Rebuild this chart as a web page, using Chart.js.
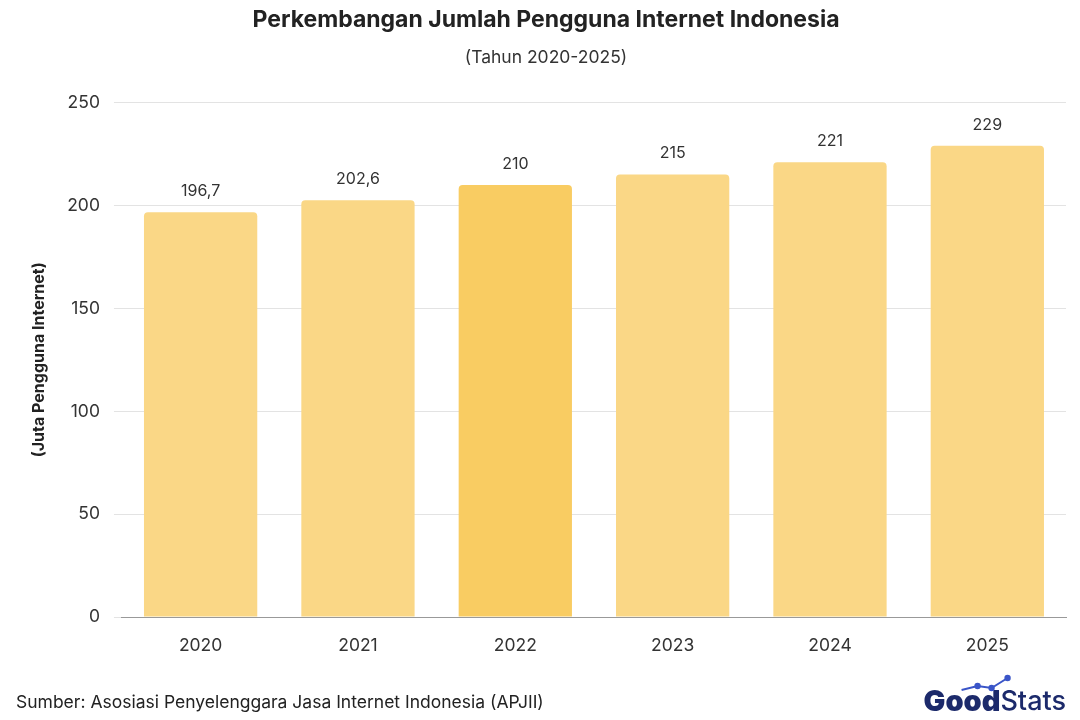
<!DOCTYPE html>
<html>
<head>
<meta charset="utf-8">
<script src="https://cdn.jsdelivr.net/npm/chart.js@4"></script>
<style>
  html, body { margin: 0; padding: 0; background: #fff; }
  #wrap { width: 1080px; height: 720px; }
</style>
</head>
<body>
<div id="wrap"><canvas id="chart"></canvas></div>
<script>
const years = ['2020', '2021', '2022', '2023', '2024', '2025'];
const users = [196.7, 202.6, 210, 215, 221, 229];
const valueLabels = ['196,7', '202,6', '210', '215', '221', '229'];
const highlightYear = '2022';

const BAR_COLOR = '#fad786';
const BAR_HIGHLIGHT = '#f9cc62';
const FONT = 'Inter, "Noto Sans", sans-serif';

const valueLabelPlugin = {
  id: 'valueLabels',
  afterDatasetsDraw(chart) {
    const { ctx } = chart;
    const meta = chart.getDatasetMeta(0);
    ctx.save();
    ctx.font = '16px ' + FONT;
    ctx.fillStyle = '#333';
    ctx.textAlign = 'center';
    ctx.textBaseline = 'bottom';
    meta.data.forEach((bar, i) => {
      ctx.fillText(valueLabels[i], bar.x, bar.y - 13);
    });
    ctx.restore();
  }
};

const footerPlugin = {
  id: 'footer',
  afterDraw(chart) {
    const { ctx } = chart;
    ctx.save();
    ctx.font = '17.5px ' + FONT;
    ctx.fillStyle = '#222';
    ctx.textBaseline = 'middle';
    ctx.fillText('Sumber: Asosiasi Penyelenggara Jasa Internet Indonesia (APJII)', 16, 703);
    ctx.textAlign = 'right';
    ctx.fillStyle = '#1c2a6b';
    ctx.font = '500 27px ' + FONT;
    const statsW = ctx.measureText('Stats').width;
    ctx.fillText('Stats', 1066, 702);
    ctx.font = '900 29px ' + FONT;
    const goodW = ctx.measureText('Good').width;
    ctx.fillText('Good', 1066 - statsW, 702);
    // small trend icon
    const x0 = 1066 - statsW - goodW + 38;
    ctx.strokeStyle = '#3a55c8';
    ctx.fillStyle = '#3a55c8';
    ctx.lineWidth = 2;
    ctx.beginPath();
    ctx.moveTo(x0, 690); ctx.lineTo(x0 + 16, 686); ctx.lineTo(x0 + 30, 688); ctx.lineTo(x0 + 46, 678);
    ctx.stroke();
    [[x0 + 16, 686], [x0 + 30, 688], [x0 + 46, 678]].forEach(([x, y]) => {
      ctx.beginPath(); ctx.arc(x, y, 3.2, 0, Math.PI * 2); ctx.fill();
    });
    ctx.restore();
  }
};

new Chart(document.getElementById('chart'), {
  type: 'bar',
  data: {
    labels: years,
    datasets: [{
      data: users,
      backgroundColor: years.map(y => y === highlightYear ? BAR_HIGHLIGHT : BAR_COLOR),
      borderRadius: { topLeft: 4, topRight: 4 },
      borderSkipped: 'bottom',
      barPercentage: 0.72,
      categoryPercentage: 1
    }]
  },
  options: {
    responsive: true,
    maintainAspectRatio: false,
    animation: false,
    layout: { padding: { left: 26, right: 14, top: 2, bottom: 54 } },
    plugins: {
      legend: { display: false },
      tooltip: { enabled: false },
      title: {
        display: true,
        text: 'Perkembangan Jumlah Pengguna Internet Indonesia',
        color: '#222',
        font: { family: FONT, size: 23, weight: 'bold' },
        padding: { top: 4, bottom: 14 }
      },
      subtitle: {
        display: true,
        text: '(Tahun 2020-2025)',
        color: '#333',
        font: { family: FONT, size: 17.5 },
        padding: { bottom: 34 }
      }
    },
    scales: {
      x: {
        grid: { display: false },
        border: { color: '#999' },
        ticks: { color: '#333', font: { family: FONT, size: 17.5 }, padding: 10 }
      },
      y: {
        min: 0,
        max: 250,
        ticks: { stepSize: 50, color: '#333', font: { family: FONT, size: 17.5 }, padding: 14 },
        grid: { color: '#e3e3e3' },
        border: { display: false },
        title: {
          display: true,
          text: '(Juta Pengguna Internet)',
          color: '#222',
          font: { family: FONT, size: 16, weight: 'bold' }
        }
      }
    }
  },
  plugins: [valueLabelPlugin, footerPlugin]
});
</script>
</body>
</html>
